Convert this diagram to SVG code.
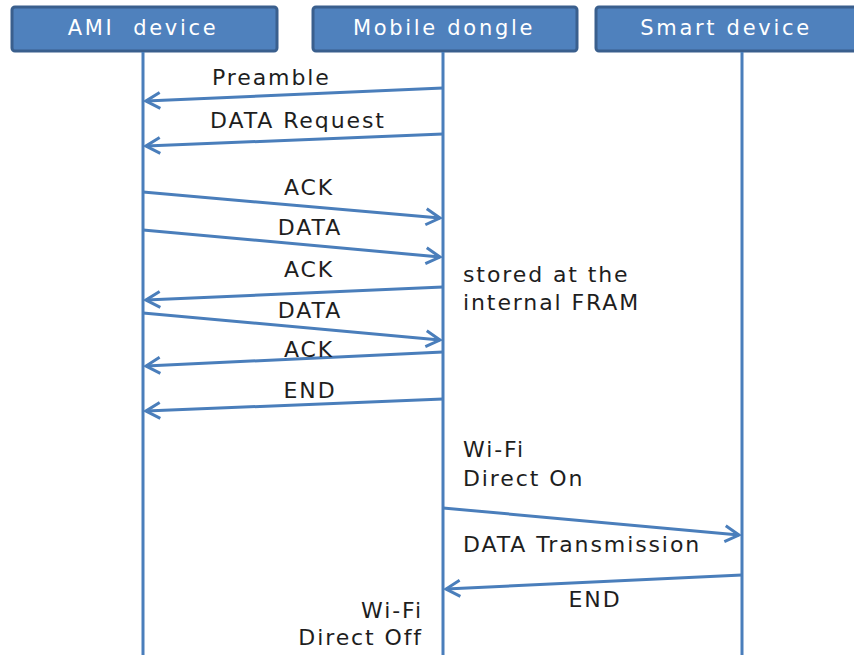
<svg xmlns="http://www.w3.org/2000/svg" width="854" height="655" viewBox="0 0 854 655">
  <style>
    .box { fill: #4F81BD; stroke: #3A5F8D; stroke-width: 3; }
    .head { font-family: "DejaVu Sans", Verdana, sans-serif; font-size: 21px; fill: #FFFFFF; letter-spacing: 2.7px; text-anchor: middle; }
    .life { stroke: #4A7EBB; stroke-width: 3; fill: none; }
    .msg { stroke: #4A7EBB; stroke-width: 3; fill: none; marker-end: url(#arrow); }
    .lbl { font-family: "DejaVu Sans", Verdana, sans-serif; font-size: 22px; fill: #1E1E1E; letter-spacing: 1.9px; }
    .mid { text-anchor: middle; }
    .end { text-anchor: end; }
  </style>
  <defs>
    <marker id="arrow" markerUnits="userSpaceOnUse" markerWidth="20" markerHeight="20" viewBox="-16 -10 18 20" refX="0" refY="0" orient="auto">
      <path d="M -14,-8 L 0,0 L -14,8" fill="none" stroke="#4A7EBB" stroke-width="3" stroke-linejoin="miter"/>
    </marker>
  </defs>
  <rect width="854" height="655" fill="#FFFFFF"/>

  <!-- participants -->
  <g id="ami-device">
    <rect class="box" x="12" y="7" width="265" height="44" rx="3"/>
    <text class="head" x="143" y="35" xml:space="preserve">AMI  device</text>
  </g>
  <g id="mobile-dongle">
    <rect class="box" x="313" y="7" width="264" height="44" rx="3"/>
    <text class="head" x="444" y="35">Mobile dongle</text>
  </g>
  <g id="smart-device">
    <rect class="box" x="596" y="7" width="270" height="44" rx="3"/>
    <text class="head" x="726" y="35">Smart device</text>
  </g>

  <!-- lifelines and messages -->
  <g id="connectors">
    <line class="life" x1="143" y1="52" x2="143" y2="655"/>
    <line class="life" x1="443" y1="52" x2="443" y2="655"/>
    <line class="life" x1="742" y1="52" x2="742" y2="655"/>

    <line class="msg" x1="443" y1="88" x2="146" y2="101"/>
    <line class="msg" x1="443" y1="134" x2="146" y2="146"/>
    <line class="msg" x1="143" y1="192" x2="440" y2="218"/>
    <line class="msg" x1="143" y1="230" x2="440" y2="257"/>
    <line class="msg" x1="443" y1="287" x2="146" y2="300"/>
    <line class="msg" x1="143" y1="313" x2="440" y2="340"/>
    <line class="msg" x1="443" y1="352" x2="146" y2="366"/>
    <line class="msg" x1="443" y1="399" x2="146" y2="411"/>
    <line class="msg" x1="443" y1="508" x2="739" y2="535"/>
    <line class="msg" x1="742" y1="575" x2="446" y2="589"/>
  </g>

  <!-- message labels -->
  <g id="labels">
    <text class="lbl" x="212" y="85">Preamble</text>
    <text class="lbl" x="210" y="128">DATA Request</text>
    <text class="lbl mid" x="309" y="195">ACK</text>
    <text class="lbl mid" x="310" y="235">DATA</text>
    <text class="lbl mid" x="309" y="277">ACK</text>
    <text class="lbl mid" x="310" y="318">DATA</text>
    <text class="lbl mid" x="309" y="357">ACK</text>
    <text class="lbl mid" x="310" y="398">END</text>
    <text class="lbl" x="463" y="282">stored at the</text>
    <text class="lbl" x="463" y="310">internal FRAM</text>
    <text class="lbl" x="463" y="457">Wi-Fi</text>
    <text class="lbl" x="463" y="486">Direct On</text>
    <text class="lbl" x="463" y="552">DATA Transmission</text>
    <text class="lbl mid" x="595" y="607">END</text>
    <text class="lbl end" x="423" y="618">Wi-Fi</text>
    <text class="lbl end" x="423" y="645">Direct Off</text>
  </g>
</svg>
